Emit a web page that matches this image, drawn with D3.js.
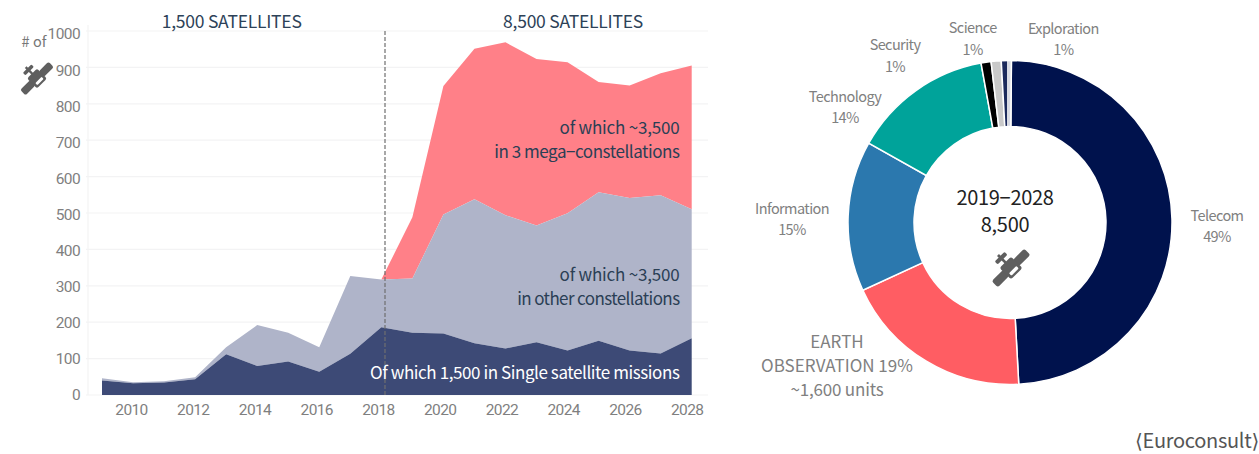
<!DOCTYPE html>
<html>
<head>
<meta charset="utf-8">
<script src="https://cdn.jsdelivr.net/npm/d3@7"></script>
<style>
    html, body { margin: 0; padding: 0; background: #fff; }
    svg { display: block; }
    text { font-family: "Noto Sans CJK KR", "Noto Sans", sans-serif; }
    .tick text { font-family: Roboto, sans-serif; letter-spacing: -0.6px; }
</style>
</head>
<body>
<script>
// launches per year, split by kind of programme
var years = [2009, 2010, 2011, 2012, 2013, 2014, 2015, 2016, 2017, 2018, 2019, 2020, 2021, 2022, 2023, 2024, 2025, 2026, 2027, 2028];
var single = [40, 32, 34, 43, 112, 80, 92, 64, 113, 186, 171, 169, 142, 128, 145, 122, 149, 122, 114, 156];
var other = [6, 3, 4, 6, 19, 112, 79, 67, 214, 131, 149, 327, 396, 366, 321, 377, 408, 419, 435, 354];
var mega = [0, 0, 0, 0, 0, 0, 0, 0, 0, 0, 168, 353, 413, 475, 457, 415, 303, 309, 335, 395];

var yearTicks = [2010, 2012, 2014, 2016, 2018, 2020, 2022, 2024, 2026, 2028];
var countTicks = [0, 100, 200, 300, 400, 500, 600, 700, 800, 900, 1000];

// share of the 2019-2028 total, by application
var sectors = ["Telecom", "EARTH OBSERVATION", "Information", "Technology", "Security", "Science", "Exploration"];
var shares = [49, 19, 15, 14, 1, 1, 1];

var width = 1259,
    height = 454;

var svg = d3.select("body").append("svg")
    .attr("width", width)
    .attr("height", height);

var x = d3.scaleLinear().domain([2009, 2028]).range([102, 691.7]);
var y = d3.scaleLinear().domain([0, 1000]).range([395, 31]);

// the axis labels sit on a slightly tighter spacing than the plot itself
var xLabel = d3.scaleLinear().domain([2010, 2028]).range([131, 686.7]);
var yLabel = d3.scaleLinear().domain([0, 1000]).range([395, 34]);

// grid
svg.append("g").selectAll("line")
    .data(countTicks)
    .enter().append("line")
    .attr("x1", 86)
    .attr("x2", 708)
    .attr("y1", function(d) { return y(d); })
    .attr("y2", function(d) { return y(d); })
    .attr("stroke", "#f3f3f4")
    .attr("stroke-width", 1.2);

svg.append("line")
    .attr("x1", 88).attr("x2", 88)
    .attr("y1", 25).attr("y2", 395)
    .attr("stroke", "#f3f3f4")
    .attr("stroke-width", 1.2);

// stacked areas
var table = years.map(function(year, i) {
    return { year: year, single: single[i], other: other[i], mega: mega[i] };
});
var stack = d3.stack().keys(["single", "other", "mega"]);
var areaColor = { single: "#3d4a76", other: "#afb4c9", mega: "#ff8088" };

var area = d3.area()
    .defined(function(d, i) { return d.key !== "mega" || d.data.year >= 2018; })
    .x(function(d) { return x(d.data.year); })
    .y0(function(d) { return y(d[0]); })
    .y1(function(d) { return y(d[1]); });

var series = stack(table);
series.forEach(function(s) {
    s.forEach(function(d) { d.key = s.key; });
});

svg.append("g").selectAll("path")
    .data(series.slice().reverse())
    .enter().append("path")
    .attr("d", area)
    .attr("fill", function(d) { return areaColor[d.key]; });

// axes
var axisY = d3.axisLeft(yLabel).tickValues(countTicks).tickFormat(d3.format("d")).tickSize(0).tickPadding(0);
var gy = svg.append("g").attr("transform", "translate(80,0)").call(axisY);
gy.select(".domain").remove();
gy.selectAll("text").attr("font-size", 15.5).attr("fill", "#7f7f7f");

var axisX = d3.axisBottom(xLabel).tickValues(yearTicks).tickFormat(d3.format("d")).tickSize(0).tickPadding(0);
var gx = svg.append("g").attr("transform", "translate(0,403.5)").call(axisX);
gx.select(".domain").remove();
gx.selectAll("text").attr("font-size", 15.5).attr("fill", "#7f7f7f");

// 2018 divider
svg.append("line")
    .attr("x1", 385).attr("x2", 385)
    .attr("y1", 31).attr("y2", 395)
    .attr("stroke", "#6f6f6f")
    .attr("stroke-width", 1.2)
    .attr("stroke-dasharray", "4,2");

function label(parent, px, py, str, size, fill, anchor, spacing) {
    return parent.append("text")
        .attr("x", px)
        .attr("y", py)
        .attr("font-size", size)
        .attr("fill", fill)
        .attr("text-anchor", anchor || "middle")
        .attr("letter-spacing", spacing || 0)
        .text(str);
}

label(svg, 231.7, 28, "1,500 SATELLITES", 17.5, "#2d4258", "middle", -0.25);
label(svg, 573, 28, "8,500 SATELLITES", 17.5, "#2d4258", "middle", -0.25);

label(svg, 679.5, 134, "of which ~3,500", 17, "#2b3f55", "end", -0.2);
label(svg, 679.5, 158, "in 3 mega\u2212constellations", 17, "#2b3f55", "end", -0.45);
label(svg, 679.5, 281, "of which ~3,500", 17, "#2b3f55", "end", -0.2);
label(svg, 679.5, 305, "in other constellations", 17, "#2b3f55", "end", -0.6);
label(svg, 679.5, 379, "Of which 1,500 in Single satellite missions", 17, "#ffffff", "end", -0.42);

label(svg, 34, 47, "# of", 14.5, "#777777");

// small satellite glyph, drawn around its own centre
function satellite(cx, cy, k) {
    var g = svg.append("g")
        .attr("transform", "translate(" + cx + "," + cy + ") rotate(-45) scale(" + k + ")")
        .attr("fill", "#5f5f5f");
    g.append("rect").attr("x", -20).attr("y", -3.8).attr("width", 14).attr("height", 7.6).attr("rx", 2);
    g.append("rect").attr("x", 6).attr("y", -3.8).attr("width", 14).attr("height", 7.6).attr("rx", 2);
    g.append("rect").attr("x", -7).attr("y", -7).attr("width", 14).attr("height", 14).attr("rx", 2);
    g.append("rect").attr("x", -4.5).attr("y", 2).attr("width", 9).attr("height", 3).attr("rx", 1).attr("fill", "#fff");
    g.append("rect").attr("x", -1.2).attr("y", -16).attr("width", 2.4).attr("height", 10);
    g.append("rect").attr("x", -6).attr("y", -14).attr("width", 12).attr("height", 3.6).attr("rx", 1.2);
}
satellite(37, 78.5, 1);
satellite(1011, 268, 1.15);

// donut
var cx = 1010,
    cy = 222.5;

// Exploration is a navy stripe beside a pale sliver
var stripe = svg.append("defs").append("linearGradient")
    .attr("id", "exploration")
    .attr("gradientUnits", "userSpaceOnUse")
    .attr("x1", -10).attr("x2", 2)
    .attr("y1", 0).attr("y2", 0);
stripe.append("stop").attr("offset", 7 / 12).attr("stop-color", "#1c2a5c");
stripe.append("stop").attr("offset", 7 / 12).attr("stop-color", "#d9dbe3");

var sectorColor = ["#00124d", "#ff5d63", "#2b78ae", "#00a39a", "#000000", "#c9c9c9", "url(#exploration)"];

var pie = d3.pie()
    .sort(null)
    .startAngle(0.5 * Math.PI / 180)
    .endAngle((360.5) * Math.PI / 180);

var arc = d3.arc()
    .innerRadius(96)
    .outerRadius(162);

var donut = svg.append("g").attr("transform", "translate(" + cx + "," + cy + ")");
donut.selectAll("path")
    .data(pie(shares))
    .enter().append("path")
    .attr("d", arc)
    .attr("fill", function(d, i) { return sectorColor[i]; })
    .attr("stroke", "#fff")
    .attr("stroke-width", 1.5);

label(svg, 1005, 205, "2019\u22122028", 20, "#222222", "middle", -0.3);
label(svg, 1005, 232, "8,500", 20, "#222222", "middle", -0.3);

var captionColor = "#808080";
var captions = [
    { at: [1217, 221, 242], lines: [sectors[0], shares[0] + "%"] },
    { at: [792, 214, 235], lines: [sectors[2], shares[2] + "%"] },
    { at: [845, 102, 123], lines: [sectors[3], shares[3] + "%"] },
    { at: [895, 50, 72], lines: [sectors[4], shares[4] + "%"] },
    { at: [972.7, 33, 55], lines: [sectors[5], shares[5] + "%"] },
    { at: [1063.3, 34, 55], lines: [sectors[6], shares[6] + "%"] }
];
captions.forEach(function(c) {
    label(svg, c.at[0], c.at[1], c.lines[0], 14.5, captionColor, "middle", -0.6);
    label(svg, c.at[0], c.at[2], c.lines[1], 14.5, captionColor, "middle", -0.6);
});

label(svg, 837, 348, "EARTH", 17, captionColor);
label(svg, 837, 372, "OBSERVATION " + shares[1] + "%", 17, captionColor);
label(svg, 837, 396, "~1,600 units", 17, captionColor, "middle", -0.2);

// source note; the angle brackets come from DejaVu, whose glyphs have no wide side bearing
var source = label(svg, 1259, 448, "", 20, "#555555", "end", -0.3);
source.append("tspan").style("font-family", "'DejaVu Sans'").text("\u27e8");
source.append("tspan").text("Euroconsult");
source.append("tspan").style("font-family", "'DejaVu Sans'").text("\u27e9");
</script>
</body>
</html>
